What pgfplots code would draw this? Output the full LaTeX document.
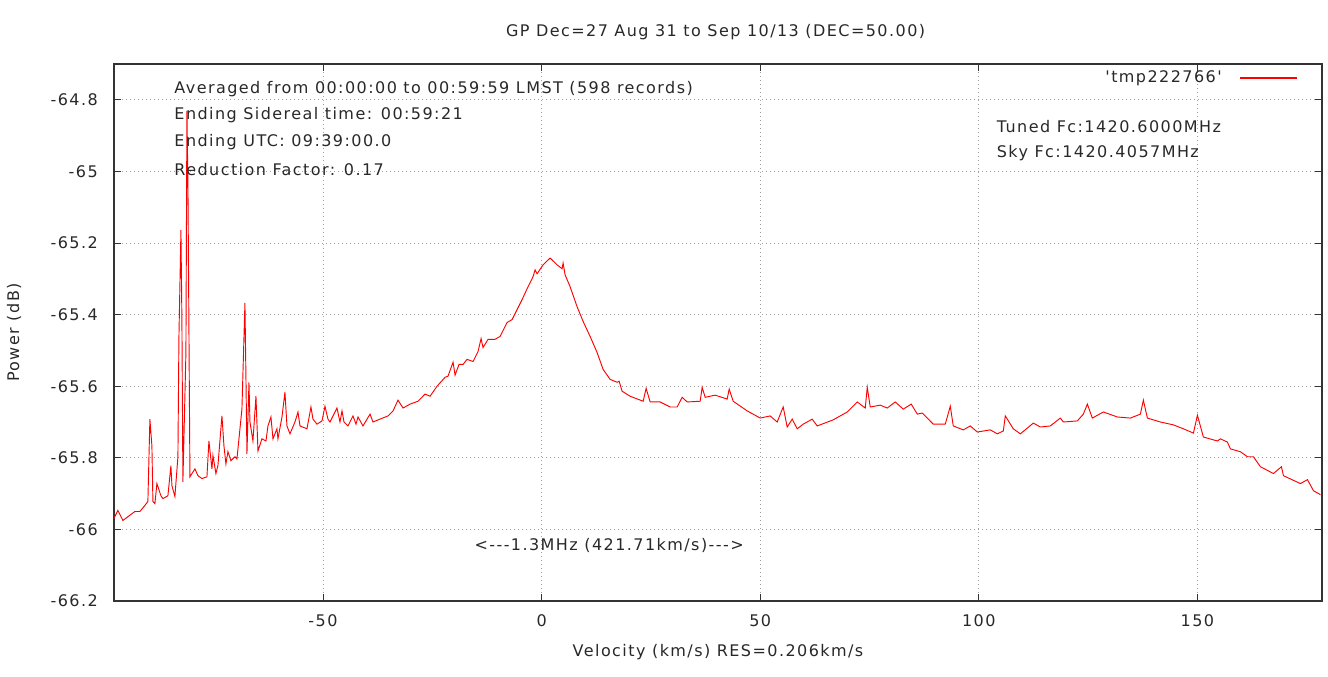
\documentclass[border=0pt]{standalone}
\usepackage{fontspec}
\setmainfont{DejaVu Sans}[LetterSpace=9, Ligatures=TeXOff]
\usepackage{pgfplots}
\pgfplotsset{compat=1.18}

\definecolor{txt}{RGB}{40,40,40}
\definecolor{gridc}{RGB}{160,160,160}

\begin{document}
\fontsize{12}{14}\selectfont
\begin{tikzpicture}
\begin{axis}[
    name=ax,
    scale only axis,
    width=906pt,
    height=402.75pt,
    xmin=-97.8, xmax=178.5,
    ymin=-66.2, ymax=-64.7,
    xtick={-50,0,50,100,150},
    ytick={-66.2,-66,-65.8,-65.6,-65.4,-65.2,-65,-64.8},
    /pgf/number format/assume math mode=true,
    tick align=inside,
    tick pos=both,
    major tick length=5pt,
    tick style={black!80, line width=0.6pt},
    axis line style={black!80, line width=0.8pt},
    grid=major,
    major grid style={gridc, line width=0.6pt, dash pattern=on 0.75pt off 2.25pt},
    ticklabel style={text=txt},
    yticklabel style={xshift=-8pt},
    xticklabel style={yshift=-6pt},
    title={GP Dec=27 Aug 31 to Sep 10/13 (DEC=50.00)},
    title style={at={(axis description cs:0.498,1.044)}, anchor=center, text=txt},
    xlabel={Velocity (km/s) RES=0.206km/s},
    xlabel style={at={(axis description cs:0.5,-0.095)}, anchor=center, text=txt},
    ylabel={Power (dB)},
    ylabel style={at={(axis description cs:-0.0828,0.5)}, anchor=center, text=txt},
    legend style={draw=none, fill=none, at={(axis description cs:0.980,0.974)}, anchor=east, inner sep=0pt},
    legend cell align=right,
    legend plot pos=right,
    legend image code/.code={\draw[draw=red, line width=0.9pt] (0pt,0pt) (11pt,0pt) -- (54pt,0pt);},
]
\addplot[red, line width=0.7pt] coordinates {
(-97.8,-65.969) (-96.91,-65.947) (-95.77,-65.975) (-93.02,-65.95) (-91.88,-65.950)
(-90.73,-65.933) (-90.05,-65.922) (-89.59,-65.692) (-89.13,-65.767) (-88.90,-65.922)
(-88.44,-65.928) (-87.99,-65.872) (-87.07,-65.906) (-86.61,-65.914) (-85.47,-65.906)
(-84.78,-65.822) (-84.55,-65.878) (-83.87,-65.908) (-83.18,-65.797) (-82.95,-65.464)
(-82.49,-65.164) (-82.27,-65.414) (-82.04,-65.867) (-81.35,-65.506) (-81.12,-64.831)
(-80.89,-65.033) (-80.43,-65.853) (-79.29,-65.831) (-78.60,-65.850) (-77.69,-65.858)
(-76.54,-65.853) (-76.09,-65.753) (-75.40,-65.831) (-75.17,-65.794) (-74.49,-65.844)
(-74.03,-65.822) (-73.11,-65.683) (-72.65,-65.767) (-72.20,-65.817) (-71.74,-65.783)
(-71.05,-65.808) (-70.14,-65.797) (-69.68,-65.803) (-69.22,-65.747) (-68.54,-65.664)
(-67.85,-65.367) (-67.39,-65.789) (-66.93,-65.589) (-66.70,-65.70) (-66.02,-65.753)
(-65.33,-65.628) (-64.87,-65.781) (-63.96,-65.747) (-63.04,-65.753) (-62.59,-65.711)
(-61.90,-65.686) (-61.44,-65.747) (-60.53,-65.719) (-60.30,-65.747) (-59.38,-65.686)
(-58.70,-65.617) (-58.24,-65.711) (-57.55,-65.733) (-56.41,-65.70) (-55.72,-65.672)
(-55.26,-65.711) (-53.66,-65.719) (-52.75,-65.658) (-52.29,-65.692) (-51.37,-65.706)
(-50.23,-65.697) (-49.54,-65.656) (-48.86,-65.692) (-48.40,-65.70) (-46.80,-65.661)
(-46.11,-65.70) (-45.65,-65.669) (-45.19,-65.70) (-44.28,-65.711) (-43.14,-65.683)
(-42.45,-65.706) (-41.99,-65.686) (-40.85,-65.711) (-39.24,-65.678) (-38.56,-65.70)
(-36.96,-65.692) (-35.13,-65.683) (-33.98,-65.669) (-32.84,-65.639) (-31.69,-65.661)
(-30.09,-65.650) (-28.26,-65.642) (-26.66,-65.622) (-25.51,-65.628) (-23.91,-65.60)
(-22.08,-65.575) (-21.40,-65.572) (-20.25,-65.533) (-19.79,-65.569) (-18.88,-65.539)
(-17.96,-65.539) (-17.05,-65.525) (-15.68,-65.531) (-14.53,-65.503) (-13.84,-65.467)
(-13.39,-65.492) (-12.24,-65.469) (-10.64,-65.469) (-9.50,-65.461) (-7.89,-65.422)
(-6.75,-65.414) (-5.61,-65.386) (-4.46,-65.358) (-3.09,-65.322) (-1.95,-65.294)
(-1.49,-65.275) (-1.03,-65.286) (0.34,-65.261) (1.95,-65.242) (3.55,-65.261)
(4.69,-65.272) (4.92,-65.256) (5.38,-65.289) (6.52,-65.322) (8.12,-65.378)
(9.50,-65.419) (11.10,-65.461) (12.70,-65.506) (14.07,-65.553) (15.68,-65.581)
(17.28,-65.589) (17.73,-65.586) (18.42,-65.614) (20.25,-65.628) (23.23,-65.642)
(23.91,-65.606) (24.83,-65.644)
(27.12,-65.644) (29.41,-65.658) (31.01,-65.658) (32.15,-65.631) (33.30,-65.644)
(36.27,-65.642) (36.73,-65.603) (37.41,-65.631) (39.70,-65.625) (42.45,-65.636)
(42.91,-65.608) (43.82,-65.642) (47.03,-65.669) (50.00,-65.689) (52.29,-65.683)
(53.89,-65.70) (55.26,-65.658) (56.18,-65.714) (57.32,-65.692) (58.47,-65.719)
(59.84,-65.706) (61.90,-65.692) (63.04,-65.711) (66.70,-65.694) (69.91,-65.672)
(72.20,-65.644) (74.03,-65.661) (74.49,-65.603) (75.17,-65.658) (77.46,-65.653)
(79.06,-65.661) (80.89,-65.644) (82.72,-65.664) (84.55,-65.65) (85.93,-65.678)
(87.07,-65.675) (89.59,-65.706) (92.33,-65.706) (93.48,-65.656) (94.16,-65.711)
(96.45,-65.722) (98.05,-65.711) (99.66,-65.728) (102.63,-65.722) (104.23,-65.733)
(105.61,-65.725) (106.06,-65.683) (107.89,-65.719) (109.50,-65.733) (111.10,-65.717)
(112.47,-65.703) (114.07,-65.714) (116.36,-65.711) (118.65,-65.689) (119.34,-65.70)
(122.54,-65.697) (123.91,-65.678) (124.83,-65.65) (125.97,-65.689) (128.49,-65.672)
(131.69,-65.686) (134.67,-65.689) (136.96,-65.678) (137.64,-65.639) (138.56,-65.689)
(141.53,-65.70) (144.51,-65.708) (146.80,-65.719) (149.09,-65.731) (150.00,-65.681)
(151.37,-65.742) (154.58,-65.753) (155.26,-65.747) (156.86,-65.756) (157.55,-65.775)
(159.84,-65.783) (161.44,-65.797) (162.81,-65.797) (164.42,-65.825) (167.39,-65.844)
(169.22,-65.825) (169.68,-65.85) (173.57,-65.872) (175.17,-65.861) (176.55,-65.892)
(178.15,-65.903)
};
\addlegendentry{\textcolor{txt}{'tmp222766'}}
\node[anchor=west, text=txt] at (axis cs:-85.25,-64.769) {Averaged from 00:00:00 to 00:59:59 LMST (598 records)};
\node[anchor=west, text=txt] at (axis cs:-85.25,-64.844) {Ending Sidereal time: 00:59:21};
\node[anchor=west, text=txt] at (axis cs:-85.25,-64.919) {Ending UTC: 09:39:00.0};
\node[anchor=west, text=txt] at (axis cs:-85.25,-64.994) {Reduction Factor: 0.17};
\node[anchor=west, text=txt] at (axis cs:102.85,-64.875) {Tuned Fc:1420.6000MHz};
\node[anchor=west, text=txt] at (axis cs:102.85,-64.95) {Sky Fc:1420.4057MHz};
\node[anchor=center, text=txt] at (axis cs:15.45,-66.044) {<---1.3MHz (421.71km/s)--->};
\end{axis}
\path ([xshift=-85.5pt,yshift=-56.25pt]ax.south west) rectangle ([xshift=4.5pt,yshift=48pt]ax.north east);
\end{tikzpicture}
\end{document}
